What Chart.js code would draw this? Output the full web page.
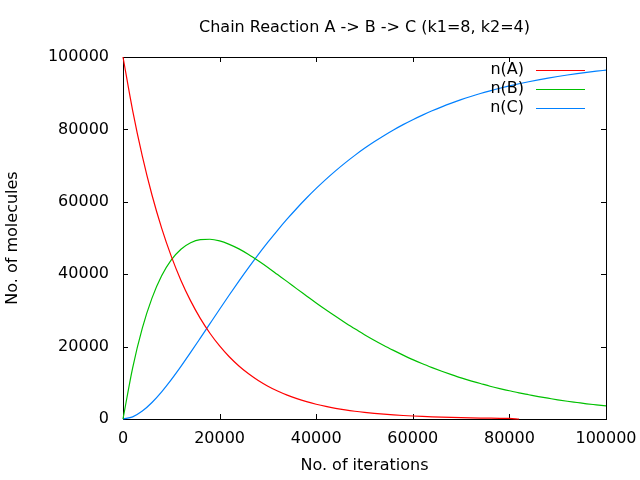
<!DOCTYPE html>
<html>
<head>
<meta charset="utf-8">
<script src="https://cdn.jsdelivr.net/npm/chart.js@4"></script>
<style>
  html, body { margin: 0; padding: 0; background: #fff; }
  #wrap { width: 640px; height: 480px; }
</style>
</head>
<body>
<div id="wrap"><canvas id="js--chart"></canvas></div>
<script>
// iterations, every 2000 steps
const iterations = [0, 2000, 4000, 6000, 8000, 10000, 12000, 14000, 16000, 18000,
  20000, 22000, 24000, 26000, 28000, 30000, 32000, 34000, 36000, 38000,
  40000, 42000, 44000, 46000, 48000, 50000, 52000, 54000, 56000, 58000,
  60000, 62000, 64000, 66000, 68000, 70000, 72000, 74000, 76000, 78000,
  80000, 82000, 84000, 86000, 88000, 90000, 92000, 94000, 96000, 98000, 100000];

// n(A) stops at 82000 in the picture
const nA = [100000, 85214, 72615, 61878, 52729, 44933, 38289, 32628, 27804, 23693,
  20190, 17205, 14661, 12493, 10646, 9072, 7731, 6588, 5614, 4784,
  4076, 3474, 2960, 2522, 2149, 1832, 1561, 1330, 1133, 966,
  823, 701, 598, 509, 434, 370, 315, 269, 229, 195,
  166, 0];

const nB = [0, 14150, 25100, 33400, 39550, 43950, 46900, 48700, 49550, 49650,
  49200, 48250, 47000, 45450, 43700, 41850, 39900, 37950, 35950, 34000,
  32050, 30150, 28350, 26600, 24900, 23300, 21750, 20300, 18950, 17650,
  16400, 15250, 14200, 13200, 12250, 11350, 10550, 9800, 9050, 8400,
  7800, 7200, 6700, 6200, 5750, 5300, 4900, 4550, 4200, 3900, 3600];

const nC = [0, 592, 2186, 4553, 7500, 10869, 14533, 18386, 22345, 26342,
  30324, 34247, 38082, 41802, 45390, 48833, 52123, 55255, 58227, 61041,
  63697, 66198, 68551, 70759, 72828, 74764, 76575, 78265, 79842, 81311,
  82679, 83953, 85136, 86237, 87259, 88208, 89088, 89904, 90662, 91364,
  92014, 92616, 93173, 93690, 94167, 94610, 95019, 95398, 95748, 96072, 96370];

const seriesNames = ["n(A)", "n(B)", "n(C)"];
const seriesColors = ["#ff0000", "#00c000", "#0080ff"];

const chartTitle = "Chain Reaction A -> B -> C (k1=8, k2=4)";
const FONT = "'DejaVu Sans', sans-serif";

function points(values) {
  let out = [];
  for (let i = 0; i < values.length; i++) {
    out.push({ x: iterations[i], y: values[i] });
  }
  return out;
}

// gnuplot style frame: full border with inward ticks on all four sides
const framePlugin = {
  id: "frame",
  beforeDatasetsDraw(chart) {
    const ctx = chart.ctx;
    const a = chart.chartArea;
    const xs = chart.scales.x;
    const ys = chart.scales.y;
    const len = 5;
    ctx.save();
    ctx.strokeStyle = "#000";
    ctx.lineWidth = 1;
    ctx.beginPath();
    xs.ticks.forEach(function(t) {
      const px = Math.round(xs.getPixelForValue(t.value)) + 0.5;
      ctx.moveTo(px, a.bottom);
      ctx.lineTo(px, a.bottom - len);
      ctx.moveTo(px, a.top);
      ctx.lineTo(px, a.top + len);
    });
    ys.ticks.forEach(function(t) {
      const py = Math.round(ys.getPixelForValue(t.value)) + 0.5;
      ctx.moveTo(a.left, py);
      ctx.lineTo(a.left + len, py);
      ctx.moveTo(a.right, py);
      ctx.lineTo(a.right - len, py);
    });
    ctx.stroke();
    ctx.strokeRect(Math.round(a.left) + 0.5, Math.round(a.top) + 0.5,
      Math.round(a.right - a.left), Math.round(a.bottom - a.top));

    // title centred over the plot area
    ctx.font = "16px " + FONT;
    ctx.fillStyle = "#000";
    ctx.textAlign = "center";
    ctx.textBaseline = "middle";
    ctx.fillText(chartTitle, (a.left + a.right) / 2, 28);
    ctx.restore();
  },
  afterDatasetsDraw(chart) {
    // key in the top right corner: text left, line sample right
    const ctx = chart.ctx;
    const a = chart.chartArea;
    ctx.save();
    ctx.font = "16px " + FONT;
    ctx.textAlign = "right";
    ctx.textBaseline = "middle";
    chart.data.datasets.forEach(function(ds, i) {
      const y = a.top + 13 + i * 19;
      ctx.fillStyle = "#000";
      ctx.fillText(ds.label, a.right - 82, y);
      ctx.strokeStyle = ds.borderColor;
      ctx.lineWidth = 1;
      ctx.beginPath();
      ctx.moveTo(a.right - 70, Math.round(y) + 0.5);
      ctx.lineTo(a.right - 21, Math.round(y) + 0.5);
      ctx.stroke();
    });
    ctx.restore();
  }
};

const datasets = [nA, nB, nC].map(function(values, i) {
  return {
    label: seriesNames[i],
    data: points(values),
    borderColor: seriesColors[i],
    backgroundColor: seriesColors[i],
    borderWidth: 1.2,
    pointRadius: 0,
    fill: false,
    cubicInterpolationMode: "monotone",
    clip: 3
  };
});

new Chart(document.getElementById("js--chart"), {
  type: "line",
  data: { datasets: datasets },
  plugins: [framePlugin],
  options: {
    responsive: true,
    maintainAspectRatio: false,
    animation: false,
    devicePixelRatio: 1,
    layout: { padding: { left: 0, right: 34, top: 57, bottom: 0 } },
    plugins: {
      legend: { display: false },
      tooltip: { enabled: false },
      title: { display: false }
    },
    scales: {
      x: {
        type: "linear",
        min: 0,
        max: 100000,
        grid: { display: false, drawTicks: false },
        border: { display: false },
        ticks: {
          stepSize: 20000,
          color: "#000",
          padding: 10,
          maxRotation: 0,
          font: { family: FONT, size: 16 },
          callback: function(v) { return String(v); }
        },
        title: {
          display: true,
          text: "No. of iterations",
          color: "#000",
          font: { family: FONT, size: 16 },
          padding: { top: 4, bottom: 5 }
        },
        afterFit: function(s) {
          s.height = 61;
          s.paddingLeft = 0;
          s.paddingRight = 0;
        }
      },
      y: {
        min: 0,
        max: 100000,
        grid: { display: false, drawTicks: false },
        border: { display: false },
        ticks: {
          stepSize: 20000,
          color: "#000",
          padding: 14,
          font: { family: FONT, size: 16 },
          callback: function(v) { return String(v); }
        },
        title: {
          display: true,
          text: "No. of molecules",
          color: "#000",
          font: { family: FONT, size: 16 },
          padding: { top: 3, bottom: 0 }
        },
        afterFit: function(s) {
          s.width = 123;
          s.paddingTop = 0;
          s.paddingBottom = 0;
        }
      }
    }
  }
});
</script>
</body>
</html>
